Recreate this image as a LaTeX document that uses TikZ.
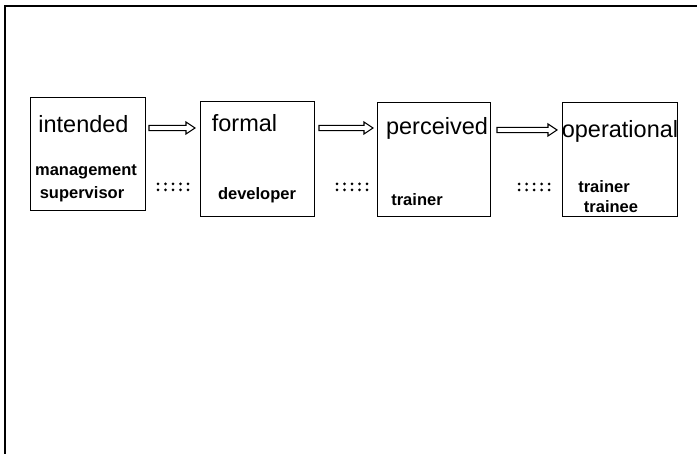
\documentclass[tikz,border=0pt]{standalone}
\usepackage{fontspec}
\setmainfont{Liberation Sans}
\usetikzlibrary{calc}
\begin{document}
\begin{tikzpicture}[x=1pt,y=-1pt,
  stage/.style={draw, line width=1pt, inner sep=0pt, anchor=north west},
  title/.style={anchor=base, inner sep=0pt, font=\fontsize{23.5}{25}\selectfont},
  role/.style={anchor=base, inner sep=0pt, font=\fontsize{16.5}{18}\selectfont\bfseries},
  % hollow block arrow from start to target
  flow/.style={draw, line width=1.1pt, line join=miter, to path={
      let \p1=(\tikztostart), \p2=(\tikztotarget) in
      (\x1,\y1-2.6pt) -- (\x2-9pt,\y1-2.6pt) -- (\x2-9pt,\y1-6pt) -- (\x2,\y1)
      -- (\x2-9pt,\y1+6pt) -- (\x2-9pt,\y1+2.6pt) -- (\x1,\y1+2.6pt) -- cycle}},
  dots/.style={line width=3pt, line cap=round, dash pattern=on 0pt off 7.5pt}]
\useasboundingbox (0,0) rectangle (697,454);

% partial outer frame
\draw[line width=1.6pt] (5,454) -- (5,6) -- (697,6);

% stage boxes
\node[stage, minimum width=115pt, minimum height=113pt] (a) at (30,97)  {};
\node[stage, minimum width=114pt, minimum height=115pt] (b) at (200,101) {};
\node[stage, minimum width=113pt, minimum height=114pt] (c) at (377,102) {};
\node[stage, minimum width=115pt, minimum height=114pt] (d) at (562,102) {};

% stage names
\node[title] (ta) at (83.5,133) {intended};
\node[title] (tb) at (244.5,132) {formal};
\node[title] (tc) at (437,135) {perceived};
\node[title] (td) at (620,138) {operational};

% responsible roles
\node[role] (ra1) at (86,176) {management};
\node[role] (ra2) at (82,199) {supervisor};
\node[role] (rb)  at (257,200) {developer};
\node[role] (rc)  at (417,206) {trainer};
\node[role] (rd1) at (604,193) {trainer};
\node[role] (rd2) at (611,213) {trainee};

% transitions between stages
\draw[flow] ([xshift=3pt]a.east |- 0,128) to ([xshift=-5pt]b.west |- 0,128);
\draw[flow] ([xshift=4pt]b.east |- 0,128) to ([xshift=-4pt]c.west |- 0,128);
\draw[flow] ([xshift=6pt]c.east |- 0,130) to ([xshift=-5pt]d.west |- 0,130);

% dotted links between roles
\foreach \y in {184,190} {
  \draw[dots] ([xshift=12pt]a.east |- 0,\y) -- ([xshift=-5pt]b.west |- 0,\y);
  \draw[dots] ([xshift=22pt]b.east |- 0,\y) -- ([xshift=-4pt]c.west |- 0,\y);
  \draw[dots] ([xshift=28pt]c.east |- 0,\y) -- ([xshift=-8pt]d.west |- 0,\y);
}
\end{tikzpicture}
\end{document}
